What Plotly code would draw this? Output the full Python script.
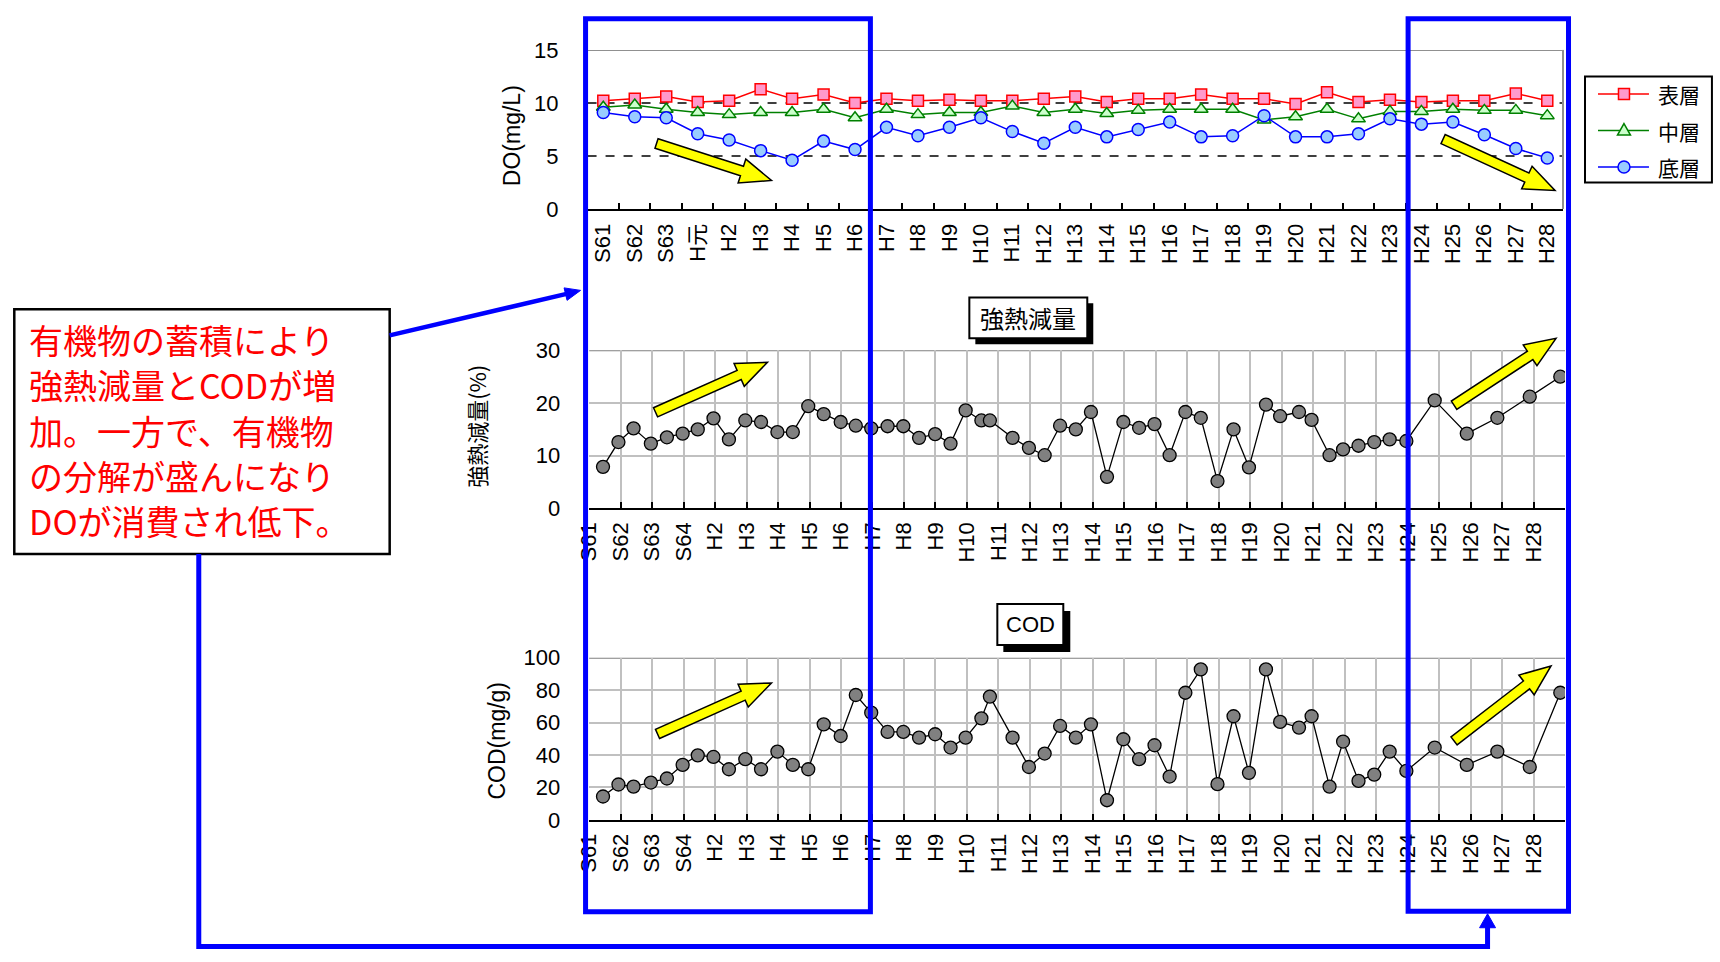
import plotly.graph_objects as go

W, H = 1720, 962

# Layout positions below are written in screen pixels of the finished page.
# The page shows the figure slightly inset and scaled, so screen pixels are
# mapped back to figure pixels with this linear relation.
SX, OX = 0.993, 12.2
SY, OY = 0.975, 10.6

# ---- DO (annual, three layers) ----
do_years = ["S61", "S62", "S63", "H元", "H2", "H3", "H4", "H5", "H6", "H7", "H8",
            "H9", "H10", "H11", "H12", "H13", "H14", "H15", "H16", "H17", "H18",
            "H19", "H20", "H21", "H22", "H23", "H24", "H25", "H26", "H27", "H28"]
do_surface = [10.2, 10.4, 10.6, 10.1, 10.2, 11.3, 10.4, 10.8, 10.0, 10.4, 10.2,
              10.3, 10.2, 10.2, 10.4, 10.6, 10.1, 10.4, 10.4, 10.8, 10.4,
              10.4, 9.9, 11.0, 10.1, 10.3, 10.1, 10.2, 10.2, 10.9, 10.2]
do_middle = [9.6, 9.8, 9.4, 9.1, 8.9, 9.1, 9.1, 9.4, 8.6, 9.4, 8.9,
             9.1, 9.1, 9.7, 9.1, 9.4, 9.0, 9.3, 9.4, 9.4, 9.4,
             8.4, 8.7, 9.4, 8.5, 9.2, 9.2, 9.4, 9.3, 9.3, 8.8]
do_bottom = [9.1, 8.7, 8.6, 7.1, 6.5, 5.5, 4.6, 6.4, 5.6, 7.7, 6.9,
             7.7, 8.6, 7.3, 6.2, 7.7, 6.8, 7.5, 8.2, 6.8, 6.9,
             8.8, 6.8, 6.8, 7.1, 8.5, 8.0, 8.2, 7.0, 5.7, 4.8]
layer_names = ["表層", "中層", "底層"]

# ---- sediment samples (time axis in years from S61) ----
year_ticks = ["S61", "S62", "S63", "S64", "H2", "H3", "H4", "H5", "H6", "H7", "H8",
              "H9", "H10", "H11", "H12", "H13", "H14", "H15", "H16", "H17", "H18",
              "H19", "H20", "H21", "H22", "H23", "H24", "H25", "H26", "H27", "H28"]
sample_time = [0.44, 0.93, 1.41, 1.96, 2.47, 2.97, 3.45, 3.95, 4.44, 4.96,
               5.46, 5.98, 6.47, 6.96, 7.45, 7.99, 8.47, 8.96, 9.48, 9.98,
               10.48, 10.99, 11.48, 11.96, 12.46, 12.73,
               13.45, 13.97, 14.47, 14.96, 15.46, 15.94, 16.45, 16.97, 17.47, 17.96,
               18.44, 18.94, 19.43, 19.96, 20.47, 20.96, 21.50, 21.95, 22.55, 22.95,
               23.52, 23.95, 24.44, 24.94, 25.43, 25.96,
               26.86, 27.88, 28.85, 29.88, 30.85]
ignition_loss = [7.9, 12.6, 15.2, 12.3, 13.5, 14.2, 15.0, 17.1, 13.1, 16.7,
                 16.4, 14.5, 14.5, 19.4, 17.9, 16.4, 15.7, 15.2, 15.6, 15.6,
                 13.4, 14.1, 12.3, 18.6, 16.7, 16.7,
                 13.4, 11.5, 10.1, 15.7, 15.0, 18.3, 6.0, 16.4, 15.3, 16.0,
                 10.1, 18.3, 17.2, 5.2, 15.0, 7.8, 19.7, 17.5, 18.3, 16.8,
                 10.1, 11.2, 11.9, 12.6, 13.1, 12.8,
                 20.5, 14.2, 17.2, 21.2, 25.0]
cod = [14.4, 21.8, 20.5, 23.0, 25.5, 33.9, 39.8, 38.8, 31.2, 37.4,
       31.2, 42.1, 33.9, 31.2, 58.9, 51.7, 77.0, 66.1, 54.2, 54.2,
       50.7, 52.8, 44.6, 50.7, 62.6, 76.0,
       50.7, 32.6, 40.9, 57.9, 50.7, 58.9, 12.1, 49.7, 37.4, 46.0,
       26.7, 78.4, 92.8, 22.0, 63.9, 29.0, 92.8, 60.4, 56.9, 63.9,
       20.5, 48.3, 24.0, 27.9, 42.1, 30.2,
       44.6, 33.9, 42.1, 32.6, 78.4]

callout_lines = ["有機物の蓄積により", "強熱減量とCODが増", "加。一方で、有機物",
                 "の分解が盛んになり", "DOが消費され低下。"]

LATIN = "Liberation Sans, Arial, Noto Sans CJK JP, sans-serif"
CJK = "Noto Sans CJK JP, sans-serif"


def fig_x(r):
    return min(max(r / SX - OX, 1.3), W - 1.3)


def fig_y(r):
    return min(max(r / SY - OY, 1.3), H - 2.5)


def px(r):
    return fig_x(r) / W


def py(r):
    return 1 - fig_y(r) / H


# per-layer styles: line colour, marker fill, marker symbol
layer_styles = [("#ff0000", "#ff99cc", "square"),
                ("#008000", "#ccffcc", "triangle-up"),
                ("#0000ff", "#99ccff", "circle")]

fig = go.Figure()

for name, values, (lc, fc, sym) in zip(layer_names, [do_surface, do_middle, do_bottom], layer_styles):
    fig.add_trace(go.Scatter(
        x=do_years, y=values, name=name, mode="lines+markers", showlegend=False,
        line=dict(color=lc, width=1.5),
        marker=dict(symbol=sym, size=11 if sym == "square" else 12, color=fc,
                    line=dict(color=lc, width=1.5)),
        xaxis="x", yaxis="y"))

# sediment traces
grey_marker = dict(symbol="circle", size=13, color="#808080", line=dict(color="#000000", width=1.3))
fig.add_trace(go.Scatter(
    x=sample_time, y=ignition_loss, mode="lines+markers", showlegend=False,
    line=dict(color="#000000", width=1.3), marker=grey_marker, xaxis="x2", yaxis="y2"))
fig.add_trace(go.Scatter(
    x=sample_time, y=cod, mode="lines+markers", showlegend=False,
    line=dict(color="#000000", width=1.3), marker=grey_marker, xaxis="x3", yaxis="y3"))

tickfont = dict(family=LATIN, size=22, color="#000000")

# plot areas (screen pixels)
X_DO = (587, 1563)
X_SED = (588.6, 1565)
Y_DO = (48.3, 207.5)
Y_IG = (349, 507.3)
Y_COD = (656.7, 819)

common_x = dict(showline=True, linecolor="#000000", linewidth=2, ticks="inside", ticklen=6,
                tickwidth=1.5, tickcolor="#000000", tickangle=-90, tickfont=tickfont,
                zeroline=False, fixedrange=True)
common_y = dict(showline=False, ticks="", tickfont=tickfont, zeroline=False,
                ticklabelstandoff=28, fixedrange=True)

fig.update_layout(
    width=W, height=H, autosize=False,
    margin=dict(l=0, r=0, t=0, b=0),
    paper_bgcolor="#ffffff", plot_bgcolor="#ffffff",
    showlegend=False,
    xaxis=dict(common_x, domain=[px(X_DO[0]), px(X_DO[1])], anchor="y", type="category",
               categoryorder="array", categoryarray=do_years, range=[-0.5, 30.5],
               tickson="boundaries", showgrid=False, ticklabelstandoff=4),
    yaxis=dict(common_y, domain=[py(Y_DO[1]), py(Y_DO[0])], anchor="x", range=[0, 15],
               tickvals=[0, 5, 10, 15], showgrid=False),
    xaxis2=dict(common_x, domain=[px(X_SED[0]), px(X_SED[1])], anchor="y2", range=[0, 31],
                tickvals=list(range(len(year_ticks))), ticktext=year_ticks,
                showgrid=True, gridcolor="#c0c0c0", gridwidth=2, ticklabelstandoff=3),
    yaxis2=dict(common_y, domain=[py(Y_IG[1]), py(Y_IG[0])], anchor="x2", range=[0, 30],
                tickvals=[0, 10, 20, 30], showgrid=True, gridcolor="#c0c0c0", gridwidth=2),
    xaxis3=dict(common_x, domain=[px(X_SED[0]), px(X_SED[1])], anchor="y3", range=[0, 31],
                tickvals=list(range(len(year_ticks))), ticktext=year_ticks,
                showgrid=True, gridcolor="#c0c0c0", gridwidth=2, ticklabelstandoff=3),
    yaxis3=dict(common_y, domain=[py(Y_COD[1]), py(Y_COD[0])], anchor="x3", range=[0, 100],
                tickvals=[0, 20, 40, 60, 80, 100], showgrid=True, gridcolor="#c0c0c0", gridwidth=2),
)

shapes = []
# DO reference lines and frame
for v in (5, 10):
    shapes.append(dict(type="line", xref="x domain", yref="y", x0=0, x1=1, y0=v, y1=v,
                       line=dict(color="#000000", width=1.5, dash="dash"), layer="below"))
shapes.append(dict(type="line", xref="x domain", yref="y", x0=0, x1=1, y0=15, y1=15,
                   line=dict(color="#909090", width=2), layer="below"))
shapes.append(dict(type="line", xref="x domain", yref="y domain", x0=1, x1=1, y0=0, y1=1,
                   line=dict(color="#909090", width=2), layer="below"))
# top frame lines of the sediment charts
shapes.append(dict(type="line", xref="x2 domain", yref="y2", x0=0, x1=1, y0=30, y1=30,
                   line=dict(color="#808080", width=2), layer="below"))
shapes.append(dict(type="line", xref="x3 domain", yref="y3", x0=0, x1=1, y0=100, y1=100,
                   line=dict(color="#808080", width=2), layer="below"))


def rect(x0, y0, x1, y1, kind="rect", **kw):
    return dict(type=kind, xref="paper", yref="paper",
                x0=px(x0), x1=px(x1), y0=py(y1), y1=py(y0), **kw)


def poly(points, closed=True, **kw):
    path = "M " + " L ".join(f"{px(a):.5f},{py(b):.5f}" for a, b in points)
    return dict(type="path", xref="paper", yref="paper", path=path + (" Z" if closed else ""), **kw)


# title boxes with drop shadow
shapes.append(rect(975, 302, 1093, 343, fillcolor="#000000", line=dict(width=0)))
shapes.append(rect(969, 296, 1087, 337, fillcolor="#ffffff", line=dict(color="#000000", width=2)))
shapes.append(rect(1003, 610, 1070, 651, fillcolor="#000000", line=dict(width=0)))
shapes.append(rect(997, 603, 1063, 644, fillcolor="#ffffff", line=dict(color="#000000", width=2)))

# callout box
shapes.append(rect(9, 308, 389, 553, fillcolor="#ffffff", line=dict(color="#000000", width=2.5)))

# legend for the three DO layers
shapes.append(rect(1585, 75, 1712, 181, fillcolor="#ffffff", line=dict(color="#000000", width=2)))
legend_rows = [92.3, 129, 165.5]
annotations = []
for name, (lc, fc, sym), yc in zip(layer_names, layer_styles, legend_rows):
    shapes.append(poly([(1598, yc), (1649, yc)], closed=False, line=dict(color=lc, width=1.5)))
    if sym == "square":
        shapes.append(rect(1618.5, yc - 5.5, 1629.5, yc + 5.5, fillcolor=fc, line=dict(color=lc, width=1.5)))
    elif sym == "triangle-up":
        shapes.append(poly([(1624, yc - 7), (1630.5, yc + 4.5), (1617.5, yc + 4.5)],
                           fillcolor=fc, line=dict(color=lc, width=1.5)))
    else:
        shapes.append(rect(1618, yc - 6, 1630, yc + 6, kind="circle", fillcolor=fc,
                           line=dict(color=lc, width=1.5)))
    annotations.append(dict(text=name, x=px(1656), y=py(yc), xanchor="left",
                            font=dict(family=CJK, size=21, color="#000000")))


def block_arrow(tail, tip, shaft=5.0, head=12.5, head_len=31.0):
    (x0, y0), (x1, y1) = tail, tip
    dx, dy = x1 - x0, y1 - y0
    length = (dx * dx + dy * dy) ** 0.5
    ux, uy = dx / length, dy / length
    nx, ny = -uy, ux
    bx, by = x1 - ux * head_len, y1 - uy * head_len
    pts = [(x0 + nx * shaft, y0 + ny * shaft), (bx + nx * shaft, by + ny * shaft),
           (bx + nx * head, by + ny * head), (x1, y1),
           (bx - nx * head, by - ny * head), (bx - nx * shaft, by - ny * shaft),
           (x0 - nx * shaft, y0 - ny * shaft)]
    return poly(pts, fillcolor="#ffff00", line=dict(color="#000000", width=1.5))


trend_arrows = [((656, 142), (771, 179)), ((1443, 137.5), (1555, 189)),
                ((655, 411), (767, 361)), ((1454, 404), (1556, 337)),
                ((657, 733), (771, 682)), ((1454, 740), (1551, 665))]
for tail, tip in trend_arrows:
    shapes.append(block_arrow(tail, tip))

# highlighted periods
blue = "#0000ff"
shapes.append(rect(585, 17, 870, 911, line=dict(color=blue, width=5)))
shapes.append(rect(1408, 17, 1568.5, 910.5, line=dict(color=blue, width=5)))

# connector from the callout to the recent period
shapes.append(poly([(198, 553), (198, 959), (1487.5, 959), (1487.5, 925)], closed=False,
                   line=dict(color=blue, width=5)))
shapes.append(poly([(1479.5, 927), (1495.5, 927), (1487.5, 913)],
                   fillcolor=blue, line=dict(color=blue, width=1)))

# arrow from the callout to the chart block
shapes.append(poly([(389, 334), (566, 292.5)], closed=False, line=dict(color=blue, width=4.5)))
shapes.append(poly([(580, 289), (563.5, 286.5), (566.5, 299)],
                   fillcolor=blue, line=dict(color=blue, width=1)))

fig.update_layout(shapes=shapes)

annotations += [
    dict(text="DO(mg/L)", x=px(511), y=py(134), textangle=-90,
         font=dict(family=LATIN, size=23, color="#000000")),
    dict(text="強熱減量(%)", x=px(476), y=py(425), textangle=-90,
         font=dict(family=CJK, size=22, color="#000000")),
    dict(text="COD(mg/g)", x=px(496), y=py(740), textangle=-90,
         font=dict(family=LATIN, size=23, color="#000000")),
    dict(text="強熱減量", x=px(1028), y=py(316.5),
         font=dict(family=CJK, size=24, color="#000000")),
    dict(text="COD", x=px(1030), y=py(623.5),
         font=dict(family=LATIN, size=22, color="#000000")),
]
line_centres = [338.6, 383.6, 429.0, 474.2, 519.2]
for text, yc in zip(callout_lines, line_centres):
    annotations.append(dict(text=text, x=px(27), y=py(yc), xanchor="left", borderpad=0,
                            font=dict(family=CJK, size=34, color="#ff0000")))
for a in annotations:
    a.setdefault("xanchor", "center")
    a.update(xref="paper", yref="paper", yanchor="middle", showarrow=False)
fig.update_layout(annotations=annotations)

fig.write_html("out.html")
